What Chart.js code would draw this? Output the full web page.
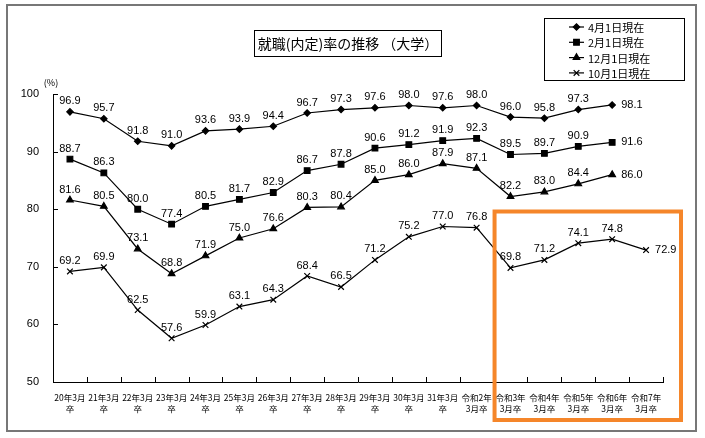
<!DOCTYPE html>
<html>
<head>
<meta charset="utf-8">
<script src="https://cdn.jsdelivr.net/npm/chart.js@4"></script>
<style>
  body { margin: 0; background: #fff; }
</style>
</head>
<body>
<canvas id="rateChart" width="705" height="438"></canvas>
<script>
const categories = [
    ['20年3月', '卒'], ['21年3月', '卒'], ['22年3月', '卒'], ['23年3月', '卒'],
    ['24年3月', '卒'], ['25年3月', '卒'], ['26年3月', '卒'], ['27年3月', '卒'],
    ['28年3月', '卒'], ['29年3月', '卒'], ['30年3月', '卒'], ['31年3月', '卒'],
    ['令和2年', '3月卒'], ['令和3年', '3月卒'], ['令和4年', '3月卒'], ['令和5年', '3月卒'],
    ['令和6年', '3月卒'], ['令和7年', '3月卒']
];
const apr1 = [96.9, 95.7, 91.8, 91.0, 93.6, 93.9, 94.4, 96.7, 97.3, 97.6, 98.0, 97.6, 98.0, 96.0, 95.8, 97.3, 98.1, null];
const feb1 = [88.7, 86.3, 80.0, 77.4, 80.5, 81.7, 82.9, 86.7, 87.8, 90.6, 91.2, 91.9, 92.3, 89.5, 89.7, 90.9, 91.6, null];
const dec1 = [81.6, 80.5, 73.1, 68.8, 71.9, 75.0, 76.6, 80.3, 80.4, 85.0, 86.0, 87.9, 87.1, 82.2, 83.0, 84.4, 86.0, null];
const oct1 = [69.2, 69.9, 62.5, 57.6, 59.9, 63.1, 64.3, 68.4, 66.5, 71.2, 75.2, 77.0, 76.8, 69.8, 71.2, 74.1, 74.8, 72.9];
const yTicks = [50, 60, 70, 80, 90, 100];

const seriesNames = ['4月1日現在', '2月1日現在', '12月1日現在', '10月1日現在'];
const markers = [
    { style: 'rectRot', radius: 3.2 },
    { style: 'rect', radius: 4 },
    { style: 'triangle', radius: 3.8 },
    { style: 'crossRot', radius: 4 }
];

const numFont = '11px "Liberation Sans", Arial, sans-serif';
const jpFont = '"Noto Sans CJK JP", sans-serif';

const datasets = [apr1, feb1, dec1, oct1].map((vals, i) => ({
    label: seriesNames[i],
    data: vals,
    borderColor: '#000',
    backgroundColor: '#000',
    borderWidth: 1.2,
    pointStyle: markers[i].style,
    pointRadius: markers[i].radius,
    pointBorderWidth: 1.2,
    pointBorderColor: '#000',
    pointBackgroundColor: '#000',
    tension: 0,
    spanGaps: false
}));

// frame, title box, legend, axis ticks, value labels, highlight box
const decorPlugin = {
    id: 'decor',
    beforeDraw(chart) {
        const ctx = chart.ctx;
        ctx.save();
        ctx.strokeStyle = '#777';
        ctx.lineWidth = 2;
        ctx.strokeRect(7, 5, 689, 426);
        ctx.restore();
    },
    afterDatasetsDraw(chart) {
        const ctx = chart.ctx;
        const x = chart.scales.x, y = chart.scales.y;
        const area = chart.chartArea;
        ctx.save();

        // inward ticks
        ctx.strokeStyle = '#000';
        ctx.lineWidth = 1;
        ctx.beginPath();
        yTicks.forEach(v => {
            const py = Math.round(y.getPixelForValue(v)) + 0.5;
            ctx.moveTo(area.left, py);
            ctx.lineTo(area.left + 5, py);
        });
        for (let i = 1; i <= categories.length; i++) {
            const px = Math.round(area.left + (area.right - area.left) * i / categories.length) + 0.5;
            ctx.moveTo(px, area.bottom);
            ctx.lineTo(px, area.bottom - 5);
        }
        ctx.stroke();

        // value labels
        ctx.fillStyle = '#000';
        ctx.font = numFont;
        chart.data.datasets.forEach((ds, di) => {
            const meta = chart.getDatasetMeta(di);
            let last = -1;
            ds.data.forEach((v, i) => { if (v !== null) last = i; });
            ds.data.forEach((v, i) => {
                if (v === null) return;
                const pt = meta.data[i];
                const txt = v.toFixed(1);
                if (i === last) {
                    ctx.textAlign = 'left';
                    ctx.textBaseline = 'middle';
                    ctx.fillText(txt, pt.x + 9, pt.y);
                } else {
                    ctx.textAlign = 'center';
                    ctx.textBaseline = 'bottom';
                    ctx.fillText(txt, pt.x, pt.y - 5);
                }
            });
        });

        // (%) unit
        ctx.font = '9px ' + jpFont;
        ctx.textAlign = 'center';
        ctx.textBaseline = 'middle';
        ctx.fillText('(%)', 51, 83);

        // title box
        ctx.strokeStyle = '#000';
        ctx.lineWidth = 1;
        ctx.strokeRect(254.5, 30.5, 187, 26);
        ctx.font = '14px ' + jpFont;
        ctx.fillText('就職(内定)率の推移 （大学）', 348, 44);

        // legend box
        ctx.strokeRect(544.5, 18.5, 140, 62);
        ctx.font = '11px ' + jpFont;
        ctx.textAlign = 'left';
        seriesNames.forEach((name, i) => {
            const ly = 27 + i * 15.3;
            ctx.beginPath();
            ctx.moveTo(569, ly);
            ctx.lineTo(584, ly);
            ctx.lineWidth = 1.2;
            ctx.stroke();
            Chart.helpers.drawPoint(ctx, {
                pointStyle: markers[i].style,
                radius: markers[i].radius,
                rotation: 0,
                borderWidth: 1.2
            }, 576.5, ly);
            ctx.fillStyle = '#000';
            ctx.fillText(name, 588, ly + 1);
        });

        // highlight box around recent years
        const bx = (x.getPixelForValue(12) + x.getPixelForValue(13)) / 2 + 1;
        const by = y.getPixelForValue(79.6);
        ctx.strokeStyle = '#f5862a';
        ctx.lineWidth = 4;
        ctx.strokeRect(bx, by, area.right + 18 - bx, 420 - by);
        ctx.restore();
    }
};

const ctx = document.getElementById('rateChart').getContext('2d');
new Chart(ctx, {
    type: 'line',
    data: { labels: categories, datasets: datasets },
    options: {
        responsive: false,
        animation: false,
        layout: { padding: { left: 0, right: 42, top: 94, bottom: 0 } },
        plugins: {
            legend: { display: false },
            title: { display: false },
            tooltip: { enabled: false }
        },
        scales: {
            x: {
                offset: true,
                grid: { display: false },
                border: { display: true, color: '#000', width: 1 },
                ticks: {
                    color: '#000',
                    font: { family: jpFont, size: 8.5, lineHeight: 1.35 },
                    autoSkip: false,
                    maxRotation: 0,
                    minRotation: 0,
                    padding: 2
                },
                afterFit: s => { s.height = 56; }
            },
            y: {
                min: 50,
                max: 100,
                grid: { display: false },
                border: { display: true, color: '#000', width: 1 },
                ticks: {
                    stepSize: 10,
                    color: '#000',
                    font: { family: '"Liberation Sans", Arial, sans-serif', size: 11 },
                    padding: 6
                },
                afterFit: s => { s.width = 53; }
            }
        }
    },
    plugins: [decorPlugin]
});
</script>
</body>
</html>
